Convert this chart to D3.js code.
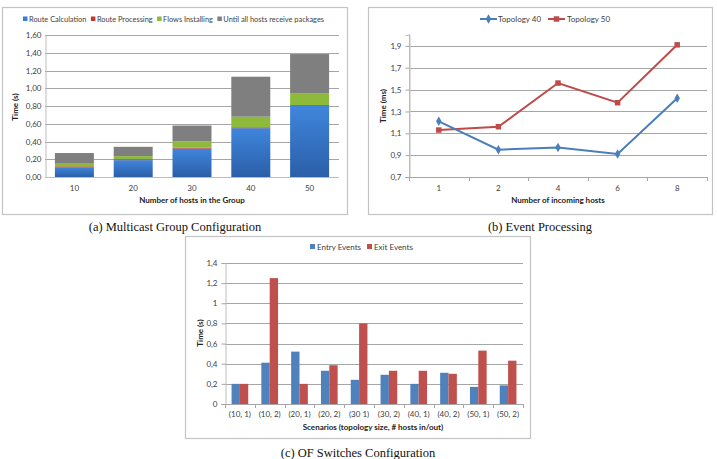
<!DOCTYPE html>
<html><head><meta charset="utf-8">
<script src="https://cdn.jsdelivr.net/npm/d3@7"></script>
<style>
body{margin:0;background:#fff;}
text{font-family:Lato,"Open Sans",sans-serif;fill:#404040;}
.cap{font-family:"Liberation Serif","DejaVu Serif",serif;fill:#111;font-size:12.5px;}
.ttl{font-weight:bold;fill:#222;font-size:8px;}
</style></head>
<body><svg id="c" width="717" height="459"></svg>
<script>
// ---- Chart (a) data ----
const aCategories = ["10","20","30","40","50"];
const aSeries = ["Route Calculation","Route Processing","Flows Installing","Until all hosts receive packages"];
const aRouteCalc = [0.11,0.19,0.32,0.55,0.80];
const aRouteProc = [0.01,0.01,0.01,0.01,0.01];
const aFlows = [0.03,0.035,0.07,0.12,0.135];
const aUntil = [0.12,0.105,0.18,0.45,0.44];
const aTicks = [0,0.2,0.4,0.6,0.8,1.0,1.2,1.4,1.6];
const aTickLabels = ["0,00","0,20","0,40","0,60","0,80","1,00","1,20","1,40","1,60"];
// ---- Chart (b) data ----
const bCategories = ["1","2","4","6","8"];
const bTopology40 = [1.21,0.95,0.97,0.91,1.42];
const bTopology50 = [1.13,1.16,1.56,1.38,1.91];
const bTicks = [0.7,0.9,1.1,1.3,1.5,1.7,1.9];
const bTickLabels = ["0,7","0,9","1,1","1,3","1,5","1,7","1,9"];
// ---- Chart (c) data ----
const cCategories = ["(10, 1)","(10, 2)","(20, 1)","(20, 2)","(30 1)","(30, 2)","(40, 1)","(40, 2)","(50, 1)","(50, 2)"];
const cEntry = [0.2,0.41,0.52,0.33,0.24,0.29,0.2,0.31,0.17,0.185];
const cExit = [0.2,1.25,0.2,0.385,0.8,0.33,0.33,0.3,0.53,0.43];
const cTicks = [0,0.2,0.4,0.6,0.8,1,1.2,1.4];
const cTickLabels = ["0","0,2","0,4","0,6","0,8","1","1,2","1,4"];

const svg = d3.select("#c");
const defs = svg.append("defs");
const grad = defs.append("linearGradient").attr("id","gBlue").attr("x1",0).attr("y1",0).attr("x2",0).attr("y2",1);
grad.append("stop").attr("offset","0%").attr("stop-color","#3f86dc");
grad.append("stop").attr("offset","100%").attr("stop-color","#2b5ea8");

function frame(x,y,w,h){
  svg.append("rect").attr("x",x+0.5).attr("y",y+0.5).attr("width",w).attr("height",h)
    .attr("fill","#fff").attr("stroke","#c4c4c4").attr("stroke-width",1.2);
}
function grid(g, y, ticks, x0, x1){
  g.selectAll("line.grid").data(ticks).join("line").attr("class","grid")
    .attr("x1",x0).attr("x2",x1).attr("y1",d=>Math.round(y(d))+0.5).attr("y2",d=>Math.round(y(d))+0.5)
    .attr("stroke","#a6a6a6").attr("stroke-width",1);
}
function yAxis(g, y, ticks, labels, x, tickLen){
  const ax = d3.axisLeft(y).tickValues(ticks).tickFormat((d,i)=>labels[i]).tickSize(tickLen).tickPadding(4);
  const gg = g.append("g").attr("transform",`translate(${x+0.5},0)`).call(ax);
  gg.select(".domain").attr("stroke","#bdbdbd");
  gg.selectAll(".tick line").attr("stroke","#a6a6a6");
  gg.selectAll("text").attr("font-size",8).attr("fill","#404040").attr("font-family","Lato, sans-serif");
  return gg;
}

// ================= (a) =================
frame(2,7,345,207);
{
  const g = svg.append("g");
  const x = d3.scaleBand().domain(aCategories).range([45,339]).paddingInner(0.337).paddingOuter(0.1685);
  const y = d3.scaleLinear().domain([0,1.6]).range([177,35]);
  grid(g,y,aTicks.slice(1),45,339);
  const colors = ["url(#gBlue)","#c0392b","#8dba3a","#7f7f7f"];
  const rows = aCategories.map((c,i)=>({cat:c, v:[aRouteCalc[i],aRouteProc[i],aFlows[i],aUntil[i]]}));
  const stack = d3.stack().keys([0,1,2,3]).value((d,k)=>d.v[k])(rows);
  stack.forEach((layer,k)=>{
    g.selectAll(null).data(layer).join("rect")
      .attr("x",d=>x(d.data.cat)).attr("width",x.bandwidth())
      .attr("y",d=>y(d[1])).attr("height",d=>y(d[0])-y(d[1]))
      .attr("fill",colors[k]);
  });
  yAxis(g,y,aTicks,aTickLabels,45,0);
  g.append("line").attr("x1",45).attr("x2",339).attr("y1",177.5).attr("y2",177.5).attr("stroke","#bdbdbd");
  g.selectAll("text.xl").data(aCategories).join("text").attr("class","xl")
    .attr("x",d=>x(d)+x.bandwidth()/2).attr("y",191).attr("text-anchor","middle").attr("font-size",8).text(d=>d);
  g.append("text").attr("class","ttl").attr("x",192).attr("y",203).attr("text-anchor","middle").text("Number of hosts in the Group");
  g.append("text").attr("class","ttl").attr("transform","translate(18,107) rotate(-90)").attr("text-anchor","middle").text("Time (s)");
  // legend: items laid out one after another
  const lcol = ["#3a7fd5","#c0392b","#8dba3a","#7f7f7f"];
  let lx = 23;
  aSeries.forEach((s,i)=>{
    g.append("rect").attr("x",lx).attr("y",16.5).attr("width",4.5).attr("height",4.5).attr("fill",lcol[i]);
    const t = g.append("text").attr("x",lx+6).attr("y",21.5).attr("font-size",7.4).text(s);
    lx += 6 + t.node().getComputedTextLength() + 4.5;
  });
}

// ================= (b) =================
frame(368,7,344,207);
{
  const g = svg.append("g");
  const x = d3.scalePoint().domain(bCategories).range([409,707]).padding(0.5);
  const y = d3.scaleLinear().domain([0.7,2.0]).range([177,35]);
  grid(g,y,bTicks.slice(1),409,707);
  yAxis(g,y,bTicks,bTickLabels,409,4);
  g.append("line").attr("x1",409.5).attr("x2",409.5).attr("y1",34).attr("y2",177).attr("stroke","#bdbdbd");
  g.append("line").attr("x1",405).attr("x2",707).attr("y1",177.5).attr("y2",177.5).attr("stroke","#a6a6a6");
  const step = x.step();
  d3.range(6).forEach(i=>{
    const xx = Math.round(409+i*step)+0.5;
    g.append("line").attr("x1",xx).attr("x2",xx).attr("y1",177).attr("y2",181).attr("stroke","#a6a6a6");
  });
  g.selectAll("text.xl").data(bCategories).join("text").attr("class","xl")
    .attr("x",d=>x(d)).attr("y",191).attr("text-anchor","middle").attr("font-size",8).text(d=>d);
  g.append("text").attr("class","ttl").attr("x",558).attr("y",203).attr("text-anchor","middle").text("Number of incoming hosts");
  g.append("text").attr("class","ttl").attr("transform","translate(386,106) rotate(-90)").attr("text-anchor","middle").text("Time (ms)");
  const line = d3.line().x((d,i)=>x(bCategories[i])).y(d=>y(d));
  const blue="#4a7ebb", red="#be4b48";
  g.append("path").attr("d",line(bTopology50)).attr("fill","none").attr("stroke",red).attr("stroke-width",2);
  g.append("path").attr("d",line(bTopology40)).attr("fill","none").attr("stroke",blue).attr("stroke-width",2);
  const sq = d3.symbol().type(d3.symbolSquare).size(30);
  const dia = d3.symbol().type(d3.symbolDiamond).size(26);
  g.selectAll(null).data(bTopology50).join("path").attr("d",sq).attr("fill",red)
    .attr("transform",(d,i)=>`translate(${x(bCategories[i])},${y(d)})`);
  g.selectAll(null).data(bTopology40).join("path").attr("d",dia).attr("fill",blue)
    .attr("transform",(d,i)=>`translate(${x(bCategories[i])},${y(d)})`);
  // legend
  g.append("line").attr("x1",480).attr("x2",497).attr("y1",19).attr("y2",19).attr("stroke",blue).attr("stroke-width",2);
  g.append("path").attr("d",dia).attr("fill",blue).attr("transform","translate(488.5,19)");
  g.append("text").attr("x",498).attr("y",22).attr("font-size",8).text("Topology 40");
  g.append("line").attr("x1",548).attr("x2",565).attr("y1",19).attr("y2",19).attr("stroke",red).attr("stroke-width",2);
  g.append("path").attr("d",sq).attr("fill",red).attr("transform","translate(556.5,19)");
  g.append("text").attr("x",567).attr("y",22).attr("font-size",8).text("Topology 50");
}

// ================= (c) =================
frame(185,236,345,202);
{
  const g = svg.append("g");
  const x0 = d3.scaleBand().domain(cCategories).range([225,523]).paddingInner(0.44).paddingOuter(0.22);
  const x1 = d3.scaleBand().domain(["e","x"]).range([0,x0.bandwidth()]);
  const y = d3.scaleLinear().domain([0,1.4]).range([404,263]);
  grid(g,y,cTicks.slice(1),225,523);
  yAxis(g,y,cTicks,cTickLabels,225,4);
  g.append("line").attr("x1",221).attr("x2",523).attr("y1",404.5).attr("y2",404.5).attr("stroke","#a6a6a6");
  const step = x0.step();
  d3.range(11).forEach(i=>{
    const xx = Math.round(225+i*step)+0.5;
    g.append("line").attr("x1",xx).attr("x2",xx).attr("y1",404).attr("y2",408).attr("stroke","#a6a6a6");
  });
  const blue="#4f81bd", red="#c0504d";
  g.selectAll(null).data(cEntry).join("rect")
    .attr("x",(d,i)=>x0(cCategories[i])+x1("e")).attr("width",x1.bandwidth())
    .attr("y",d=>y(d)).attr("height",d=>y(0)-y(d)).attr("fill",blue);
  g.selectAll(null).data(cExit).join("rect")
    .attr("x",(d,i)=>x0(cCategories[i])+x1("x")).attr("width",x1.bandwidth())
    .attr("y",d=>y(d)).attr("height",d=>y(0)-y(d)).attr("fill",red);
  g.selectAll("text.xl").data(cCategories).join("text").attr("class","xl")
    .attr("x",d=>x0(d)+x0.bandwidth()/2).attr("y",417).attr("text-anchor","middle").attr("font-size",8).text(d=>d);
  g.append("text").attr("class","ttl").attr("x",373).attr("y",430).attr("text-anchor","middle").text("Scenarios (topology size, # hosts in/out)");
  g.append("text").attr("class","ttl").attr("transform","translate(203,333) rotate(-90)").attr("text-anchor","middle").text("Time (s)");
  g.append("rect").attr("x",310).attr("y",244).attr("width",5).attr("height",5).attr("fill",blue);
  g.append("text").attr("x",317).attr("y",249.5).attr("font-size",8).text("Entry Events");
  g.append("rect").attr("x",367).attr("y",244).attr("width",5).attr("height",5).attr("fill",red);
  g.append("text").attr("x",374).attr("y",249.5).attr("font-size",8).text("Exit Events");
}

// captions
svg.append("text").attr("class","cap").attr("x",175).attr("y",231).attr("text-anchor","middle").text("(a) Multicast Group Configuration");
svg.append("text").attr("class","cap").attr("x",540).attr("y",231).attr("text-anchor","middle").text("(b) Event Processing");
svg.append("text").attr("class","cap").attr("x",358).attr("y",457).attr("text-anchor","middle").text("(c) OF Switches Configuration");
</script></body></html>
